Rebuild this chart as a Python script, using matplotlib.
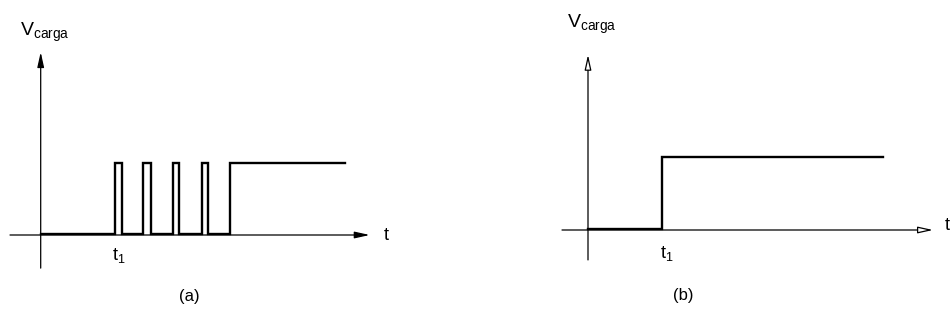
import numpy as np
import matplotlib
matplotlib.use("Agg")
import matplotlib.pyplot as plt

# Load voltage vs. time: (a) pulsed switching before full conduction, (b) clean step
v_high = 1.0
v_low = 0.02

# (a) pulse train starting at t1, then a continuous on-state
pulse_on_a = [7.4, 10.2, 13.2, 16.1]
pulse_off_a = [8.1, 11.0, 13.8, 16.7]
step_on_a = 18.9
t_end_a = 30.4

# (b) single step at t1
step_on_b = 7.4
t_end_b = 29.5

FONT = "Liberation Sans"
plt.rcParams["font.family"] = [FONT, "DejaVu Sans"]
plt.rcParams["mathtext.fontset"] = "custom"
plt.rcParams["mathtext.rm"] = FONT

W, H = 953, 321
fig = plt.figure(figsize=(W / 100, H / 100), dpi=100)
fig.patch.set_facecolor("white")

# Pixel layout of each panel: axes span, origin of the diagram, scale
panels = [
    dict(x0=0, x1=476, ox=40.7, oy=235, sx=10.0, sy=72.0),
    dict(x0=476, x1=953, ox=588, oy=230, sx=10.0, sy=73.0),
]

axes = []
for p in panels:
    ax = fig.add_axes([p["x0"] / W, 0, (p["x1"] - p["x0"]) / W, 1])
    ax.set_xlim((p["x0"] - p["ox"]) / p["sx"], (p["x1"] - p["ox"]) / p["sx"])
    ax.set_ylim((p["oy"] - H) / p["sy"], p["oy"] / p["sy"])
    ax.axis("off")
    axes.append(ax)


def build_wave(on_times, off_times, final_on, t_end):
    t = [0.0]
    v = [v_low]
    for a, b in zip(on_times, off_times):
        t += [a, a, b, b]
        v += [v_low, v_high, v_high, v_low]
    t += [final_on, final_on, t_end]
    v += [v_low, v_high, v_high]
    return np.array(t), np.array(v)


def draw_axes(ax, x_from, x_to, y_from, y_to, hollow):
    fc = "white" if hollow else "black"
    style = "-|>,head_length=0.9,head_width=0.2"
    ax.annotate("", xy=(x_to, 0), xytext=(x_from, 0),
                arrowprops=dict(arrowstyle=style, lw=0.9, color="black", fc=fc,
                                shrinkA=0, shrinkB=0))
    ax.annotate("", xy=(0, y_to), xytext=(0, y_from),
                arrowprops=dict(arrowstyle=style, lw=0.9, color="black", fc=fc,
                                shrinkA=0, shrinkB=0))


# ---- panel (a)
ax = axes[0]
draw_axes(ax, -3.07, 32.9, -0.46, 2.54, hollow=False)
t, v = build_wave(pulse_on_a, pulse_off_a, step_on_a, t_end_a)
ax.plot(t, v, color="black", lw=1.7, solid_joinstyle="miter")
ax.text(-2.1, 2.82, r"$\mathrm{V}_{\mathrm{carga}}$", fontsize=14,
        ha="left", va="center")
ax.text(34.6, 0.0, "t", fontsize=13, ha="center", va="center")
ax.text(pulse_on_a[0] + 0.4, -0.28, r"$\mathrm{t}_1$", fontsize=13,
        ha="center", va="center")
ax.text(14.9, -0.85, "(a)", fontsize=12, ha="center", va="center")

# ---- panel (b)
ax = axes[1]
draw_axes(ax, -2.6, 34.5, -0.41, 2.4, hollow=True)
t, v = build_wave([], [], step_on_b, t_end_b)
ax.plot(t, v, color="black", lw=1.7, solid_joinstyle="miter")
ax.text(-2.1, 2.82, r"$\mathrm{V}_{\mathrm{carga}}$", fontsize=14,
        ha="left", va="center")
ax.text(35.9, 0.06, "t", fontsize=13, ha="center", va="center")
ax.text(step_on_b + 0.5, -0.32, r"$\mathrm{t}_1$", fontsize=13,
        ha="center", va="center")
ax.text(9.5, -0.9, "(b)", fontsize=12, ha="center", va="center")

fig.savefig("out.png", dpi=100, facecolor="white")
